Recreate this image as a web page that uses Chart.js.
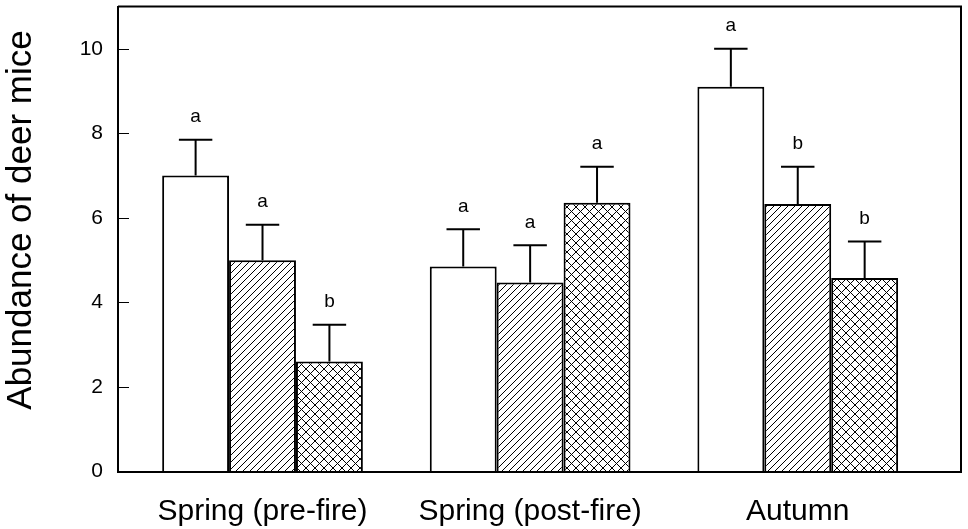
<!DOCTYPE html>
<html>
<head>
<meta charset="utf-8">
<script src="https://cdn.jsdelivr.net/npm/chart.js@4.4.1/dist/chart.umd.min.js"></script>
<style>
  html, body { margin: 0; padding: 0; background: #fff; }
  #wrap { width: 968px; height: 529px; }
</style>
</head>
<body>
<div id="wrap"><canvas id="js-canvas-mice" width="968" height="529"></canvas></div>
<script>
const categories = ['Spring (pre-fire)', 'Spring (post-fire)', 'Autumn'];

const openValues = [7.0, 4.85, 9.1];
const hatchValues = [5.0, 4.47, 6.33];
const crossValues = [2.6, 6.36, 4.58];

const openErrors = [0.85, 0.88, 0.9];
const hatchErrors = [0.84, 0.88, 0.88];
const crossErrors = [0.87, 0.85, 0.86];

const openLetters = ['a', 'a', 'a'];
const hatchLetters = ['a', 'a', 'b'];
const crossLetters = ['b', 'a', 'b'];

const yTicks = [0, 2, 4, 6, 8, 10];
const FONT = '"Liberation Sans", Arial, Helvetica, sans-serif';

function makePattern(size, cross) {
  const c = document.createElement('canvas');
  c.width = size;
  c.height = size;
  const g = c.getContext('2d');
  g.fillStyle = '#fff';
  g.fillRect(0, 0, size, size);
  g.strokeStyle = '#000';
  g.lineWidth = 1;
  g.beginPath();
  // "/" lines
  g.moveTo(-1, size + 1); g.lineTo(size + 1, -1);
  g.moveTo(-1, 1); g.lineTo(1, -1);
  g.moveTo(size - 1, size + 1); g.lineTo(size + 1, size - 1);
  if (cross) {
    g.moveTo(-1, -1); g.lineTo(size + 1, size + 1);
    g.moveTo(size - 1, -1); g.lineTo(size + 1, 1);
    g.moveTo(-1, size - 1); g.lineTo(1, size + 1);
  }
  g.stroke();
  return g.createPattern(c, 'repeat');
}

const toPoints = vals => vals.map((v, i) => ({ x: i, y: v }));

const noPad = s => {
  s.paddingTop = 0;
  s.paddingBottom = 0;
  s.paddingLeft = 0;
  s.paddingRight = 0;
};

const errorBars = {
  id: 'errorBars',
  afterDatasetsDraw(chart) {
    const ctx = chart.ctx;
    const y = chart.scales.y;
    ctx.save();
    ctx.strokeStyle = '#000';
    ctx.lineWidth = 2;
    ctx.fillStyle = '#000';
    ctx.font = '19px ' + FONT;
    ctx.textAlign = 'center';
    ctx.textBaseline = 'middle';
    chart.data.datasets.forEach((ds, di) => {
      const meta = chart.getDatasetMeta(di);
      meta.data.forEach((bar, i) => {
        const top = y.getPixelForValue(ds.data[i].y + ds.errors[i]);
        const half = bar.width / 4;
        ctx.beginPath();
        ctx.moveTo(bar.x, bar.y);
        ctx.lineTo(bar.x, top);
        ctx.moveTo(bar.x - half, top);
        ctx.lineTo(bar.x + half, top);
        ctx.stroke();
        ctx.fillText(ds.letters[i], bar.x, top - 23);
      });
    });
    ctx.restore();
  }
};

const frame = {
  id: 'frame',
  afterDraw(chart) {
    const ctx = chart.ctx;
    const a = chart.chartArea;
    const y = chart.scales.y;
    ctx.save();
    ctx.strokeStyle = '#000';
    ctx.lineWidth = 2;
    ctx.beginPath();
    ctx.moveTo(a.left, a.top);
    ctx.lineTo(a.right, a.top);
    ctx.lineTo(a.right, a.bottom);
    ctx.stroke();
    // inward tick marks
    ctx.lineWidth = 1;
    ctx.beginPath();
    yTicks.forEach(v => {
      const py = Math.round(y.getPixelForValue(v)) + 0.5;
      ctx.moveTo(a.left, py);
      ctx.lineTo(a.left + 11, py);
    });
    ctx.stroke();
    // axis title
    ctx.fillStyle = '#000';
    ctx.font = '35px ' + FONT;
    ctx.textAlign = 'center';
    ctx.textBaseline = 'middle';
    ctx.translate(21, 220);
    ctx.rotate(-Math.PI / 2);
    ctx.fillText('Abundance of deer mice', 0, 0);
    ctx.restore();
  }
};

const ctx = document.getElementById('js-canvas-mice');
new Chart(ctx, {
  type: 'bar',
  data: {
    datasets: [
      {
        label: 'Open',
        data: toPoints(openValues),
        errors: openErrors,
        letters: openLetters,
        backgroundColor: '#fff',
        borderColor: '#000',
        borderWidth: 2
      },
      {
        label: 'Hatched',
        data: toPoints(hatchValues),
        errors: hatchErrors,
        letters: hatchLetters,
        backgroundColor: makePattern(7, false),
        borderColor: '#000',
        borderWidth: 2
      },
      {
        label: 'Cross-hatched',
        data: toPoints(crossValues),
        errors: crossErrors,
        letters: crossLetters,
        backgroundColor: makePattern(9, true),
        borderColor: '#000',
        borderWidth: 2
      }
    ]
  },
  options: {
    responsive: false,
    animation: false,
    layout: { padding: { top: 6.5, right: 7, left: 0, bottom: 0 } },
    datasets: {
      bar: { categoryPercentage: 0.75, barPercentage: 1 }
    },
    plugins: {
      legend: { display: false },
      tooltip: { enabled: false }
    },
    scales: {
      x: {
        type: 'linear',
        min: -0.54,
        max: 2.61,
        offset: false,
        afterBuildTicks: s => { s.ticks = categories.map((c, i) => ({ value: i })); },
        afterFit: s => { s.height = 57.5; noPad(s); },
        grid: { drawOnChartArea: false, drawTicks: false },
        border: { display: true, color: '#000', width: 2 },
        ticks: {
          autoSkip: false,
          maxRotation: 0,
          padding: 22,
          color: '#000',
          font: { family: FONT, size: 30 },
          callback: v => categories[v]
        }
      },
      y: {
        min: 0,
        max: 11,
        afterFit: s => { s.width = 118; noPad(s); },
        afterBuildTicks: s => { s.ticks = yTicks.map(v => ({ value: v })); },
        grid: { drawOnChartArea: false, drawTicks: false },
        border: { display: true, color: '#000', width: 2 },
        ticks: {
          padding: 15,
          color: '#000',
          font: { family: FONT, size: 21 }
        }
      }
    }
  },
  plugins: [errorBars, frame]
});
</script>
</body>
</html>
